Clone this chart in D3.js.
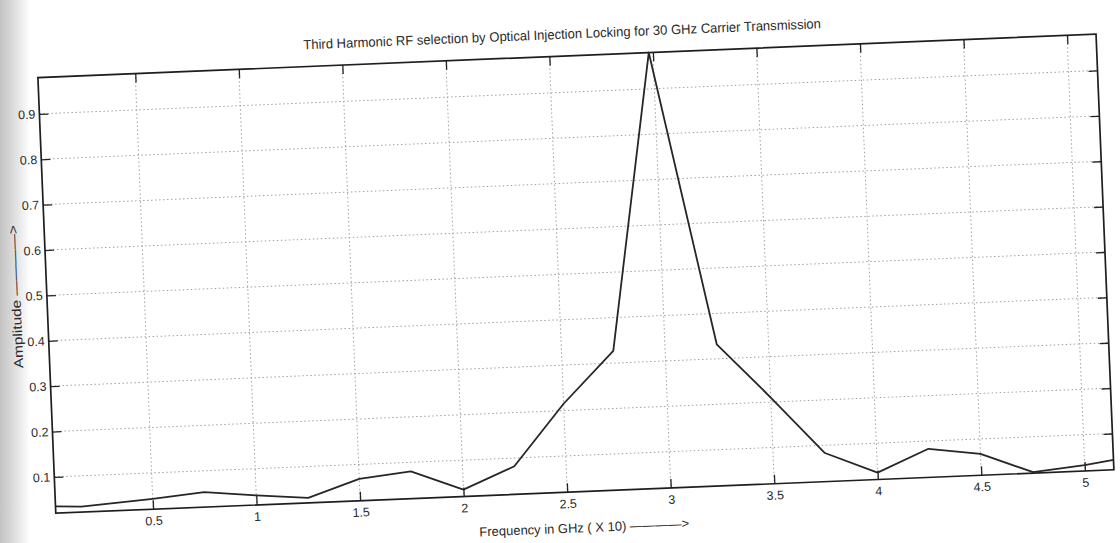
<!DOCTYPE html>
<html>
<head>
<meta charset="utf-8">
<script src="https://cdn.jsdelivr.net/npm/d3@7"></script>
<style>
  html, body { margin: 0; padding: 0; background: #fff; }
  svg { display: block; }
  text { font-family: "Liberation Sans Narrow", "Arial Narrow", "Liberation Sans", Arial, sans-serif; fill: #2a2a2a; }
</style>
</head>
<body>
<svg id="chart" width="1120" height="543"></svg>
<script>
// Labels
const chartTitle = "Third Harmonic RF selection by Optical Injection Locking for 30 GHz Carrier Transmission";
const xLabel = "Frequency in GHz ( X 10) ————>";
const yLabel = "Amplitude ————>";

// Spectrum samples: frequency (GHz x10) and normalised amplitude
const frequency = [0.03, 0.155, 0.5, 0.75, 1.0, 1.25, 1.5, 1.75, 2.0, 2.25, 2.5, 2.75, 2.98, 3.25, 3.5, 3.75, 4.0, 4.25, 4.5, 4.75, 5.0, 5.14];
const amplitude = [0.035, 0.032, 0.043, 0.053, 0.041, 0.031, 0.068, 0.080, 0.035, 0.082, 0.215, 0.327, 0.98, 0.332, 0.210, 0.083, 0.035, 0.083, 0.067, 0.022, 0.033, 0.042];

// Axis ranges and ticks
const xDomain = [0.03, 5.14];
const yDomain = [0.02, 0.98];
const xTicks = [0.5, 1, 1.5, 2, 2.5, 3, 3.5, 4, 4.5, 5];
const yTicks = [0.1, 0.2, 0.3, 0.4, 0.5, 0.6, 0.7, 0.8, 0.9];

const W = 1059, H = 436;
const svg = d3.select("#chart");

// Grey shading along the left edge of the sheet
const defs = svg.append("defs");
const grad = defs.append("linearGradient").attr("id", "edgeShade").attr("x1", 0).attr("x2", 1).attr("y1", 0).attr("y2", 0);
grad.append("stop").attr("offset", 0).attr("stop-color", "#c2c2c2");
grad.append("stop").attr("offset", 0.35).attr("stop-color", "#d6d6d6");
grad.append("stop").attr("offset", 1).attr("stop-color", "#ffffff");
svg.append("rect").attr("x", 0).attr("y", 0).attr("width", 30).attr("height", 543).attr("fill", "url(#edgeShade)");

// The whole sheet sits slightly tilted
const g = svg.append("g")
  .attr("transform", "translate(575.9,273.7) rotate(-2.35) translate(" + (-W / 2) + "," + (-H / 2) + ")");

const x = d3.scaleLinear().domain(xDomain).range([0, W]);
const y = d3.scaleLinear().domain(yDomain).range([H, 0]);

// Dotted grid
const grid = g.append("g").attr("stroke", "#a0a0a0").attr("stroke-width", 1).attr("stroke-dasharray", "1.5,2.5");
grid.selectAll("line.vx").data(xTicks).join("line").attr("class", "vx")
  .attr("x1", d => x(d)).attr("x2", d => x(d)).attr("y1", 0).attr("y2", H);
grid.selectAll("line.hy").data(yTicks).join("line").attr("class", "hy")
  .attr("x1", 0).attr("x2", W).attr("y1", d => y(d)).attr("y2", d => y(d));

// Axes with inward ticks on all four sides
const fmt = d => String(d);
const styleAxis = sel => {
  sel.select(".domain").remove();
  sel.selectAll(".tick line").attr("stroke", "#222").attr("stroke-width", 1.3);
  sel.selectAll(".tick text").attr("font-size", 12.5).attr("fill", "#2a2a2a");
};
g.append("g").attr("transform", `translate(0,${H})`)
  .call(d3.axisBottom(x).tickValues(xTicks).tickSizeInner(-9).tickSizeOuter(0).tickPadding(7).tickFormat(fmt))
  .call(styleAxis);
g.append("g")
  .call(d3.axisTop(x).tickValues(xTicks).tickSizeInner(-9).tickSizeOuter(0).tickFormat(""))
  .call(styleAxis);
g.append("g")
  .call(d3.axisLeft(y).tickValues(yTicks).tickSizeInner(-9).tickSizeOuter(0).tickPadding(4).tickFormat(fmt))
  .call(styleAxis);
g.append("g").attr("transform", `translate(${W},0)`)
  .call(d3.axisRight(y).tickValues(yTicks).tickSizeInner(-9).tickSizeOuter(0).tickFormat(""))
  .call(styleAxis);

// Frame
g.append("rect").attr("x", 0).attr("y", 0).attr("width", W).attr("height", H)
  .attr("fill", "none").attr("stroke", "#1e1e1e").attr("stroke-width", 1.7);

// Spectrum trace
const pts = frequency.map((f, i) => [f, amplitude[i]]);
g.append("path").datum(pts)
  .attr("fill", "none").attr("stroke", "#262626").attr("stroke-width", 1.8).attr("stroke-linejoin", "round")
  .attr("d", d3.line().x(d => x(d[0])).y(d => y(d[1])));

// Title and axis labels
g.append("text").attr("x", W / 2 - 4).attr("y", -22).attr("dy", "0.35em")
  .attr("text-anchor", "middle").attr("font-size", 13.5)
  .attr("textLength", 518).attr("lengthAdjust", "spacingAndGlyphs").text(chartTitle);
g.append("text").attr("x", W / 2 - 2).attr("y", H + 36).attr("dy", "0.35em")
  .attr("text-anchor", "middle").attr("font-size", 13)
  .attr("textLength", 210).attr("lengthAdjust", "spacingAndGlyphs").text(xLabel);
g.append("text").attr("transform", `translate(-31,${H / 2}) rotate(-90)`).attr("dy", "0.35em")
  .attr("text-anchor", "middle").attr("font-size", 13)
  .attr("textLength", 143).attr("lengthAdjust", "spacingAndGlyphs").text(yLabel);
</script>
</body>
</html>
